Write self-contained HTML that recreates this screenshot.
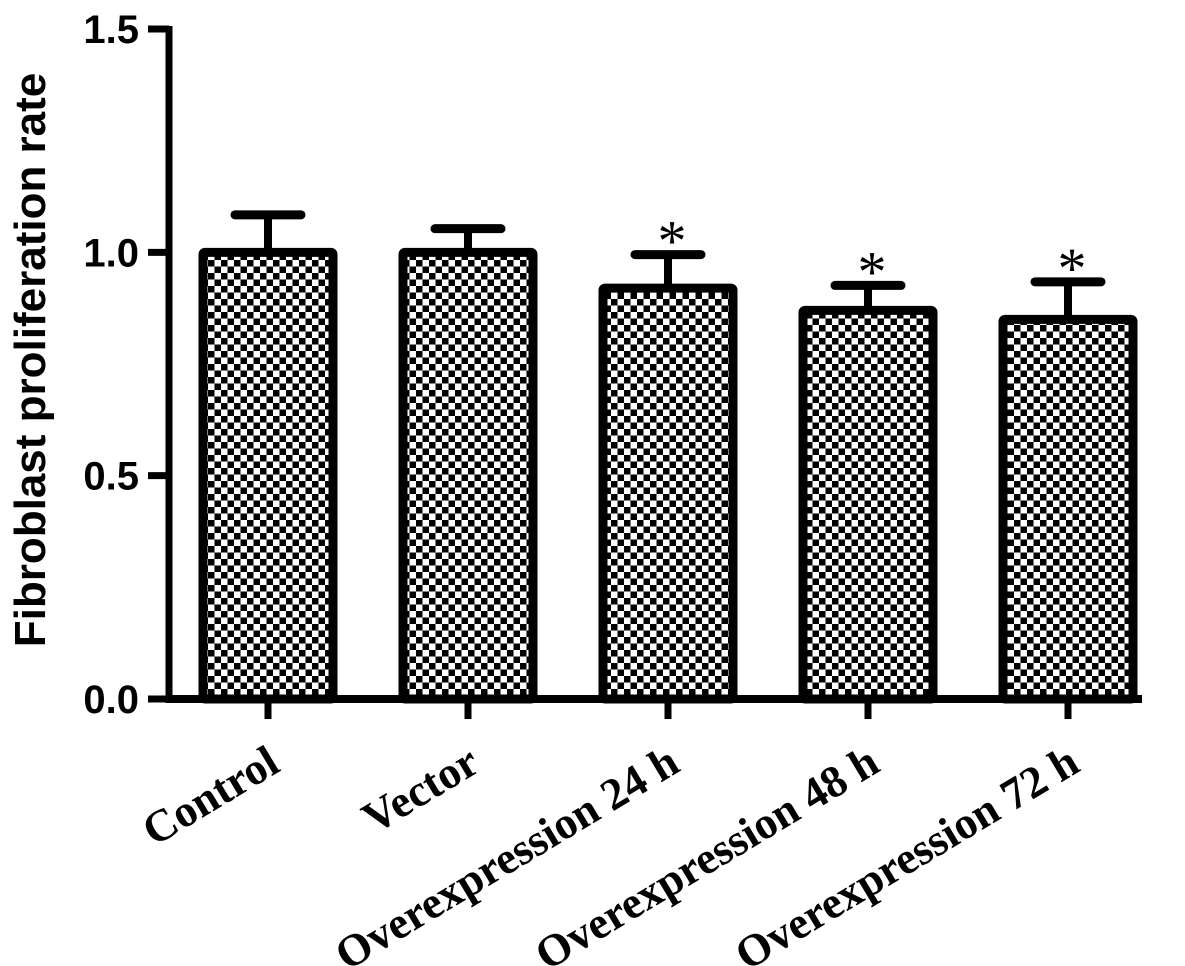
<!DOCTYPE html>
<html><head><meta charset="utf-8"><style>
html,body{margin:0;padding:0;background:#fff;}
svg{display:block;}
</style></head><body>
<svg id="chart" width="1185" height="966" viewBox="0 0 1185 966" xmlns="http://www.w3.org/2000/svg">
<defs>
<pattern id="checker" width="13" height="13" patternUnits="userSpaceOnUse">
<rect width="13" height="13" fill="#fff"/>
<rect width="6.5" height="6.5" fill="#000"/>
<rect x="6.5" y="6.5" width="6.5" height="6.5" fill="#000"/>
</pattern>
</defs>
<g id="plot"></g>
</svg>
<script>
const categories = ["Control","Vector","Overexpression 24 h","Overexpression 48 h","Overexpression 72 h"];
const means = [1.0, 1.0, 0.92, 0.87, 0.85];
const errors = [0.084, 0.053, 0.075, 0.056, 0.084];
const significant = [false, false, true, true, true];
const yTicks = [0, 0.5, 1.0, 1.5];
const yTickLabels = ["0.0","0.5","1.0","1.5"];

const NS = "http://www.w3.org/2000/svg";
const g = document.getElementById('plot');
const y0 = 699, yTop = 29, yMax = 1.5;
const yScale = v => y0 - (v / yMax) * (y0 - yTop);
const xStart = 268, xStep = 200;
const xScale = i => xStart + i * xStep;
const barW = 138;
function mk(tag, attrs){const e=document.createElementNS(NS,tag);for(const k in attrs)e.setAttribute(k,attrs[k]);g.appendChild(e);return e;}

categories.forEach((c,i)=>{
  const cx = xScale(i);
  const top = yScale(means[i]), errTop = yScale(means[i]+errors[i]);
  const stem = mk('line',{x1:cx,x2:cx,y1:errTop,y2:top,stroke:'#000','stroke-width':8});
  
  
  const cap = mk('line',{x1:cx-33,x2:cx+33,y1:errTop,y2:errTop,stroke:'#000','stroke-width':9,'stroke-linecap':'round'});
  
  
  const bar = mk('rect',{x:cx-barW/2+4,y:top,width:barW-8,height:y0-top,fill:'url(#checker)',stroke:'#000','stroke-width':9,rx:2});
  
  
  if(significant[i]){
    const s = mk('text',{x:cx+4,y:errTop+6,'text-anchor':'middle','font-family':'Liberation Serif, serif','font-size':58});
    s.textContent='*';
    
    
  }
  const tk = mk('line',{x1:cx,x2:cx,y1:y0,y2:719,stroke:'#000','stroke-width':7});
  
  
  const lx = cx+14, ly = 770;
  const lab = mk('text',{x:lx,y:ly,'text-anchor':'end','font-family':'Liberation Serif, serif','font-size':45,'font-weight':'bold',transform:`rotate(-31 ${lx} ${ly})`});
  lab.textContent = c;
  
  
});

const ya = mk('line',{x1:169,x2:169,y1:26,y2:703,stroke:'#000','stroke-width':7});


const xa = mk('line',{x1:166,x2:1142,y1:699,y2:699,stroke:'#000','stroke-width':8});


yTicks.forEach((v,i)=>{
  const y = yScale(v);
  const t = mk('line',{x1:148,x2:169,y1:y,y2:y,stroke:'#000','stroke-width':7});
  
  
  const l = mk('text',{x:139,y:y+14,'text-anchor':'end','font-family':'Liberation Sans, sans-serif','font-size':40,'font-weight':'bold'});
  l.textContent = yTickLabels[i];
  
  
});
const yt = mk('text',{x:0,y:0,'text-anchor':'middle','font-family':'Liberation Sans, sans-serif','font-size':44,'font-weight':'bold',transform:'translate(45 360) rotate(-90)'});
yt.textContent = 'Fibroblast proliferation rate';


</script>
</body></html>
